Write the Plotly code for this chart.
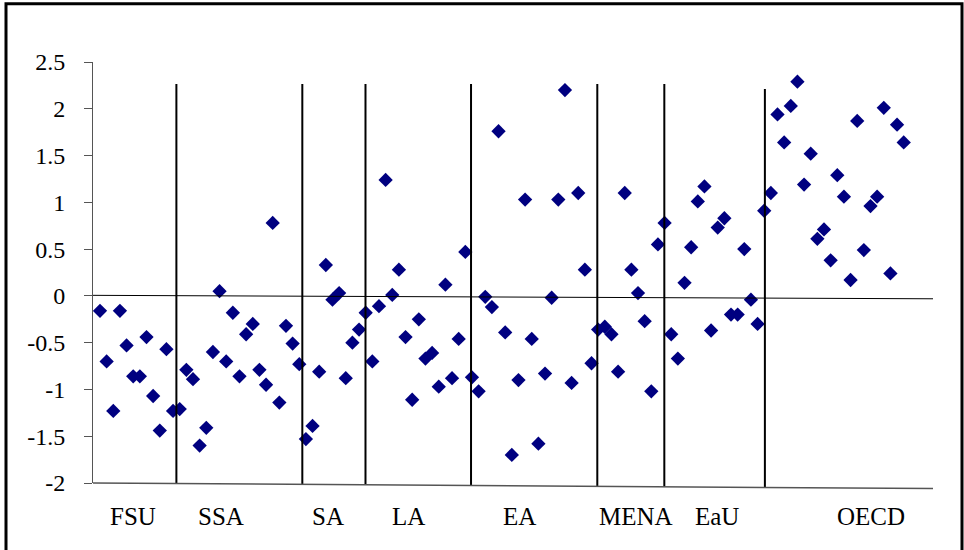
import plotly.graph_objects as go

# ---- data ----
values = [
    -0.16, -0.70, -1.23, -0.16, -0.53, -0.86, -0.86, -0.44, -1.07, -1.44, -0.57, -1.23,
    -1.21, -0.79, -0.89, -1.60, -1.41, -0.60, 0.05, -0.70, -0.18, -0.86, -0.41, -0.30,
    -0.79, -0.95, 0.78, -1.14, -0.32, -0.51, -0.73,
    -1.53, -1.39, -0.81, 0.33, -0.04, 0.03, -0.88, -0.50, -0.36, -0.18,
    -0.70, -0.11, 1.24, 0.01, 0.28, -0.44, -1.11, -0.25, -0.67, -0.61, -0.97, 0.12,
    -0.88, -0.46, 0.47,
    -0.87, -1.02, -0.01, -0.12, 1.76, -0.39, -1.70, -0.90, 1.03, -0.46, -1.58, -0.83,
    -0.02, 1.03, 2.20, -0.93, 1.10, 0.28, -0.72,
    -0.36, -0.33, -0.41, -0.81, 1.10, 0.28, 0.03, -0.27, -1.02, 0.55,
    0.78, -0.41, -0.67, 0.14, 0.52, 1.01, 1.17, -0.37, 0.73, 0.83, -0.20, -0.20, 0.50,
    -0.04, -0.30, 0.91,
    1.10, 1.94, 1.64, 2.03, 2.29, 1.19, 1.52, 0.61, 0.71, 0.38, 1.29, 1.06, 0.17, 1.87,
    0.49, 0.96, 1.06, 2.01, 0.24, 1.83, 1.64,
]
index = list(range(1, len(values) + 1))

regions = ["FSU", "SSA", "SA", "LA", "EA", "MENA", "EaU", "OECD"]
region_label_x = [5.97, 19.2, 35.3, 47.4, 64.2, 81.7, 93.9, 117.1]
region_bounds = [12.5, 31.46, 40.97, 56.86, 75.87, 85.96, 101.1]

y_ticks = [-2, -1.5, -1, -0.5, 0, 0.5, 1, 1.5, 2, 2.5]
y_tick_text = ["-2", "-1.5", "-1", "-0.5", "0", "0.5", "1", "1.5", "2", "2.5"]

# ---- layout geometry ----
W, H = 964, 550
L, R, T, B = 93, 31, 62, 67
XMIN, XMAX = -0.054, 126.41
PW, PH = W - L - R, H - T - B
FONT = "Liberation Serif, Times New Roman, serif"

fig = go.Figure()
fig.add_trace(go.Scatter(
    x=index, y=values, mode="markers",
    marker=dict(symbol="diamond", size=11, color="#000080", line=dict(width=0)),
    showlegend=False, hoverinfo="y",
))

def px_to_paper_x(px):
    return (px - L) / PW

def px_to_paper_y(py):
    return (H - B - py) / PH

shapes = []
tilt = 5.5 / PH  # bottom axis drop in paper units across width
# separators
for i, b in enumerate(region_bounds):
    fx = (b - XMIN) / (XMAX - XMIN)
    top = px_to_paper_y(89 if i == len(region_bounds) - 1 else 84)
    shapes.append(dict(type="line", xref="x", yref="paper", x0=b, x1=b,
                       y0=-tilt * fx, y1=top, line=dict(color="black", width=2)))
# bottom axis (slightly tilted)
shapes.append(dict(type="line", xref="paper", yref="paper", x0=0, x1=1,
                   y0=0, y1=-tilt, line=dict(color="#555555", width=1.5)))
# zero line (slightly tilted)
shapes.append(dict(type="line", xref="x", yref="y", x0=XMIN, x1=XMAX,
                   y0=0.006, y1=-0.031, line=dict(color="black", width=1)))
# outer frame
shapes.append(dict(type="rect", xref="paper", yref="paper",
                   x0=px_to_paper_x(6), x1=px_to_paper_x(962),
                   y0=px_to_paper_y(570), y1=px_to_paper_y(3.7),
                   line=dict(color="black", width=3), fillcolor="rgba(0,0,0,0)"))

annotations = []
for name, xv in zip(regions, region_label_x):
    annotations.append(dict(text=name, x=xv, xref="x", y=px_to_paper_y(516), yref="paper",
                            showarrow=False, xanchor="center", yanchor="middle",
                            font=dict(family=FONT, size=25, color="black")))

fig.update_layout(
    width=W, height=H,
    margin=dict(l=L, r=R, t=T, b=B, pad=0),
    paper_bgcolor="white", plot_bgcolor="white",
    shapes=shapes, annotations=annotations,
    xaxis=dict(range=[XMIN, XMAX], showgrid=False, zeroline=False, showline=False,
               showticklabels=False, ticks=""),
    yaxis=dict(range=[-2, 2.5], tickvals=y_ticks, ticktext=y_tick_text,
               showgrid=False, zeroline=False, showline=True, linecolor="#555555",
               linewidth=1, ticks="outside", ticklen=8, tickcolor="#555555",
               tickwidth=1, ticklabelstandoff=14,
               tickfont=dict(family=FONT, size=24, color="black")),
)

fig.write_html("out.html", config={"displayModeBar": False},
               post_script="document.body.style.margin='0';")
